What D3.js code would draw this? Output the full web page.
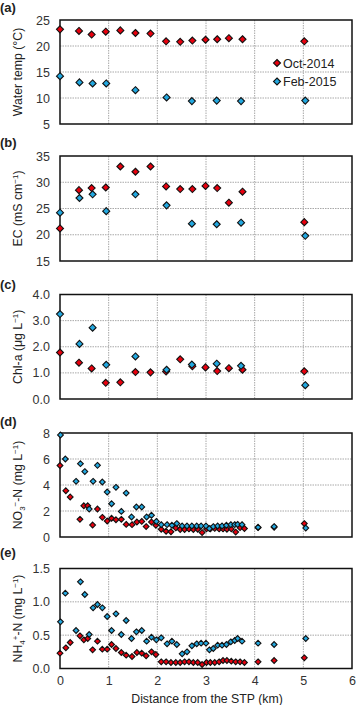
<!DOCTYPE html>
<html>
<head>
<meta charset="utf-8">
<script src="https://cdn.jsdelivr.net/npm/d3@7"></script>
<style>
  body { margin: 0; background: #fff; }
  svg text { font-family: "Liberation Sans", Arial, sans-serif; fill: #222; }
</style>
</head>
<body>
<div id="chart"></div>
<script>
// sampling sites (km from the STP) for panels a-c
const octKm = [0, 0.39, 0.65, 0.94, 1.24, 1.55, 1.86, 2.18, 2.47, 2.72, 2.99, 3.23, 3.47, 3.75, 5.02];
const febKm = [0, 0.40, 0.67, 0.95, 1.55, 2.19, 2.71, 3.22, 3.72, 5.04];

const octTemp = [23.2, 22.9, 22.2, 22.75, 23.0, 22.5, 22.4, 20.9, 20.8, 21.05, 21.2, 21.3, 21.5, 21.3, 20.9];
const febTemp = [14.2, 13.0, 12.8, 12.8, 11.5, 10.1, 9.4, 9.5, 9.4, 9.5];

const octEC = [21.2, 28.5, 28.9, 29.0, 33.0, 32.0, 33.0, 29.2, 28.7, 28.7, 29.3, 28.9, 26.1, 28.2, 22.4];
const febEC = [24.2, 27.0, 27.7, 24.5, 27.7, 25.6, 22.1, 22.0, 22.3, 19.8];

const octChl = [1.78, 1.39, 1.17, 0.62, 0.64, 1.03, 1.02, 1.05, 1.52, 1.25, 1.21, 1.07, 1.18, 1.12, 1.06];
const febChl = [3.25, 2.11, 2.73, 1.31, 1.63, 1.12, 1.32, 1.35, 1.27, 0.53];

// denser nutrient sampling (panels d-e)
const octKmNut = [0, 0.12, 0.21, 0.41, 0.49, 0.57, 0.67, 0.77, 0.87, 0.97, 1.06, 1.15, 1.26, 1.36, 1.48, 1.58, 1.68, 1.77, 1.88, 1.97,
  2.08, 2.18, 2.28, 2.38, 2.47, 2.56, 2.65, 2.74, 2.83, 2.92, 3.01, 3.09, 3.18, 3.27, 3.35, 3.43, 3.52, 3.61, 3.70, 3.79,
  4.07, 4.40, 5.02];
const febKmNut = [0.01, 0.11, 0.33, 0.42, 0.51, 0.60, 0.68, 0.77, 0.87, 0.97, 1.06, 1.15, 1.26, 1.36, 1.47, 1.57, 1.68, 1.78, 1.88, 1.98,
  2.08, 2.20, 2.30, 2.40, 2.51, 2.61, 2.71, 2.81, 2.90, 3.00, 3.07, 3.15, 3.24, 3.33, 3.42, 3.51, 3.59, 3.65, 3.74,
  4.07, 4.40, 5.05];

const octNO3 = [5.5, 3.56, 3.08, 1.36, 2.4, 2.4, 0.92, 2.15, 1.51, 1.23, 1.44, 1.33, 1.36, 0.97, 0.95, 1.15, 1.2, 0.8, 1.15, 0.9,
  0.6, 0.44, 0.4, 0.7, 0.58, 0.58, 0.62, 0.58, 0.6, 0.34, 0.62, 0.62, 0.66, 0.62, 0.62, 0.6, 0.62, 0.38, 0.72, 0.65,
  0.72, 0.75, 1.03];
const febNO3 = [7.85, 6.0, 4.28, 5.64, 5.03, 2.15, 4.28, 5.51, 4.23, 3.46, 2.56, 3.82, 1.97, 3.38, 1.54, 2.31, 2.31, 1.54, 1.67, 1.2,
  0.95, 0.95, 0.9, 1.03, 0.85, 0.85, 0.85, 0.85, 0.85, 0.85, 0.65, 0.8, 0.85, 0.85, 0.9, 0.95, 0.95, 0.97, 0.95,
  0.75, 0.8, 0.69];

const octNH4 = [0.23, 0.31, 0.39, 0.49, 0.43, 0.45, 0.28, 0.41, 0.29, 0.29, 0.36, 0.30, 0.24, 0.20, 0.18, 0.24, 0.23, 0.19, 0.25, 0.21,
  0.10, 0.10, 0.09, 0.09, 0.09, 0.10, 0.10, 0.09, 0.09, 0.06, 0.09, 0.09, 0.09, 0.10, 0.12, 0.12, 0.11, 0.10, 0.10, 0.09,
  0.10, 0.12, 0.16];
const febNH4 = [0.7, 1.13, 0.57, 1.3, 1.11, 0.51, 0.91, 0.96, 0.91, 0.78, 0.57, 0.82, 0.51, 0.72, 0.45, 0.55, 0.57, 0.41, 0.47, 0.43,
  0.46, 0.37, 0.41, 0.36, 0.22, 0.25, 0.34, 0.37, 0.38, 0.38, 0.28, 0.3, 0.35, 0.35, 0.36, 0.4, 0.42, 0.45, 0.41,
  0.38, 0.36, 0.45];

const xTicks = [0, 1, 2, 3, 4, 5, 6];
const seriesNames = ["Oct-2014", "Feb-2015"];
const seriesColors = ["#e8000e", "#22a8e0"];

const width = 357, height = 705;
const left = 60, right = 352;

const svg = d3.select("#chart").append("svg")
  .attr("width", width)
  .attr("height", height);

const x = d3.scaleLinear().domain([0, 6]).range([left, right]);

const panels = [
  { tag: "(a)", tagY: 12, top: 20, bottom: 124, domain: [5, 25], ticks: [5, 10, 15, 20, 25], fmt: d3.format("d"),
    title: [["Water temp (°C)"]], size: 3.5,
    series: [[octKm, octTemp], [febKm, febTemp]] },
  { tag: "(b)", tagY: 147, top: 156, bottom: 261, domain: [15, 35], ticks: [15, 20, 25, 30, 35], fmt: d3.format("d"),
    title: [["EC (mS cm"], ["−1", "sup"], [")"]], size: 3.5,
    series: [[octKm, octEC], [febKm, febEC]] },
  { tag: "(c)", tagY: 289, top: 294.5, bottom: 399, domain: [0, 4], ticks: [0, 1, 2, 3, 4], fmt: d3.format(".1f"),
    title: [["Chl-a (μg L"], ["−1", "sup"], [")"]], size: 3.5,
    series: [[octKm, octChl], [febKm, febChl]] },
  { tag: "(d)", tagY: 426, top: 433, bottom: 537, domain: [0, 8], ticks: [0, 2, 4, 6, 8], fmt: d3.format("d"),
    title: [["NO"], ["3", "sub"], ["−", "sup"], ["-N (mg L"], ["−1", "sup"], [")"]], size: 2.9,
    series: [[octKmNut, octNO3], [febKmNut, febNO3]] },
  { tag: "(e)", tagY: 557, top: 568.5, bottom: 668.5, domain: [0, 1.5], ticks: [0, 0.5, 1, 1.5], fmt: d3.format(".1f"),
    title: [["NH"], ["4", "sub"], ["+", "sup"], ["-N (mg L"], ["−1", "sup"], [")"]], size: 2.9,
    series: [[octKmNut, octNH4], [febKmNut, febNH4]], xAxis: true }
];

const diamond = r => `M0,${-r}L${r},0L0,${r}L${-r},0Z`;

panels.forEach(p => {
  const g = svg.append("g");
  const y = d3.scaleLinear().domain(p.domain).range([p.bottom, p.top]);

  // dotted grid
  g.append("g").selectAll("line.gy")
    .data(p.ticks.slice(1, -1))
    .join("line")
    .attr("x1", left).attr("x2", right)
    .attr("y1", d => y(d)).attr("y2", d => y(d))
    .attr("stroke", "#a8a8a8").attr("stroke-width", 1).attr("stroke-dasharray", "1.5,1");

  g.append("g").selectAll("line.gx")
    .data(xTicks.slice(1, -1))
    .join("line")
    .attr("x1", d => x(d)).attr("x2", d => x(d))
    .attr("y1", p.top).attr("y2", p.bottom)
    .attr("stroke", "#a8a8a8").attr("stroke-width", 1).attr("stroke-dasharray", "1.5,1");

  // y axis labels
  const ya = g.append("g")
    .attr("transform", `translate(${left},0)`)
    .call(d3.axisLeft(y).tickValues(p.ticks).tickFormat(p.fmt).tickSize(0).tickPadding(10));
  ya.select(".domain").remove();
  ya.selectAll("text").style("font-size", "12.5px").style("fill", "#333")
    .style("font-family", "'Liberation Sans', Arial, sans-serif");

  if (p.xAxis) {
    const xa = g.append("g")
      .attr("transform", `translate(0,${p.bottom})`)
      .call(d3.axisBottom(x).tickValues(xTicks).tickFormat(d3.format("d")).tickSize(0).tickPadding(8));
    xa.select(".domain").remove();
    xa.selectAll("text").style("font-size", "12.5px").style("fill", "#333")
      .style("font-family", "'Liberation Sans', Arial, sans-serif");

    g.append("text")
      .attr("x", (left + right) / 2 + 1)
      .attr("y", 703)
      .attr("text-anchor", "middle")
      .style("font-size", "12.3px")
      .text("Distance from the STP (km)");
  }

  // frame
  g.append("rect")
    .attr("x", left).attr("y", p.top)
    .attr("width", right - left).attr("height", p.bottom - p.top)
    .attr("fill", "none").attr("stroke", "#111").attr("stroke-width", 1.5);

  // y title with sub/superscripts
  const t = g.append("text")
    .attr("transform", `translate(22,${(p.top + p.bottom) / 2}) rotate(-90)`)
    .attr("text-anchor", "middle")
    .style("font-size", "12.3px");
  let shift = 0;
  p.title.forEach(([txt, kind]) => {
    const target = kind === "sup" ? -4.5 : kind === "sub" ? 3 : 0;
    t.append("tspan")
      .attr("dy", target - shift)
      .style("font-size", kind ? "8px" : null)
      .text(txt);
    shift = target;
  });

  // panel tag
  svg.append("text")
    .attr("x", 0).attr("y", p.tagY)
    .style("font-size", "13px").style("font-weight", "bold")
    .text(p.tag);

  // points
  p.series.forEach(([km, vals], i) => {
    g.append("g").selectAll("path")
      .data(vals.map((v, j) => ({ km: km[j], v })))
      .join("path")
      .attr("transform", d => `translate(${x(d.km)},${y(d.v)})`)
      .attr("d", diamond(p.size))
      .attr("fill", seriesColors[i])
      .attr("stroke", "#111")
      .attr("stroke-width", 1.1);
  });

  if (p.tag === "(a)") {
    const lg = g.append("g");
    seriesNames.forEach((name, i) => {
      const ly = 63 + i * 18.5;
      lg.append("path")
        .attr("transform", `translate(277,${ly})`)
        .attr("d", diamond(3.5))
        .attr("fill", seriesColors[i])
        .attr("stroke", "#111")
        .attr("stroke-width", 1.1);
      lg.append("text")
        .attr("x", 283).attr("y", ly)
        .attr("dy", "0.36em")
        .style("font-size", "12.5px")
        .text(name);
    });
  }
});
</script>
</body>
</html>
